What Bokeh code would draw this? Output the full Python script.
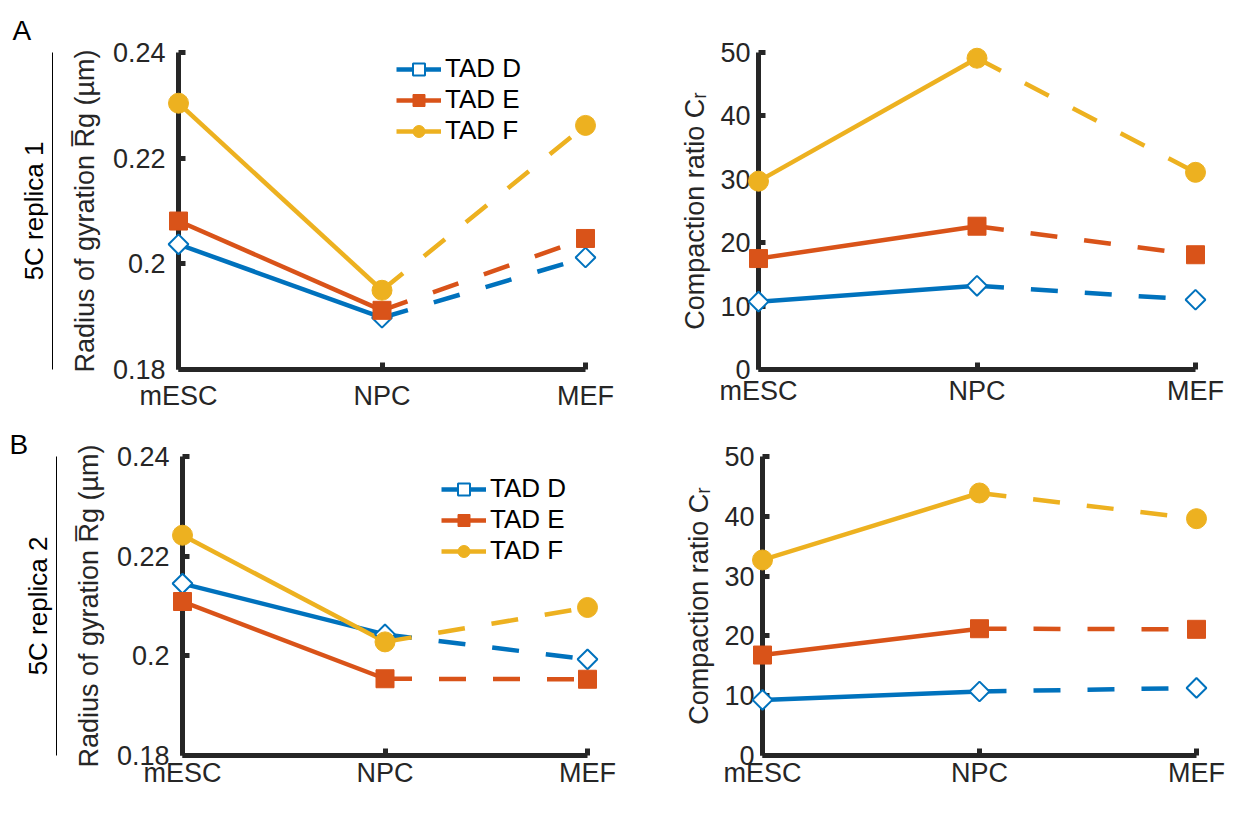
import math
from bokeh.plotting import figure
from bokeh.models import FixedTicker, Legend, LegendItem, Range1d, LinearAxis, Title
from bokeh.layouts import column, row
from bokeh.embed import file_html
from bokeh.resources import INLINE

# ---------------- data ----------------
stages = ["mESC", "NPC", "MEF"]
tads = ["TAD D", "TAD E", "TAD F"]

rg_rep1_D = [0.2037, 0.1898, 0.2012]
rg_rep1_E = [0.2081, 0.1912, 0.2048]
rg_rep1_F = [0.2304, 0.1950, 0.2262]
cr_rep1_D = [10.7, 13.2, 11.0]
cr_rep1_E = [17.5, 22.6, 18.1]
cr_rep1_F = [29.7, 49.1, 31.1]

rg_rep2_D = [0.2145, 0.2043, 0.1993]
rg_rep2_E = [0.2109, 0.1954, 0.1953]
rg_rep2_F = [0.2242, 0.2028, 0.2097]
cr_rep2_D = [9.3, 10.7, 11.3]
cr_rep2_E = [16.8, 21.2, 21.1]
cr_rep2_F = [32.7, 43.9, 39.6]

rg_ticks = [0.18, 0.2, 0.22, 0.24]
rg_tick_labels = ["0.18", "0.2", "0.22", "0.24"]
cr_ticks = [0, 10, 20, 30, 40, 50]

# ---------------- style ----------------
FONT = "Liberation Sans"
AX = "#262626"
COLORS = ["#0072BD", "#D95319", "#EDB120"]
xs = list(range(len(stages)))


def make_fig(width, height, b_left, b_right, b_top, b_bottom, y0, y1, yticks, ylabels, ylabel,
             ystandoff, lstandoff, xstandoff):
    p = figure(width=width, height=height, output_backend="svg", toolbar_location=None,
               x_range=Range1d(0, len(stages) - 1), y_range=Range1d(y0, y1),
               min_border_left=b_left, min_border_right=b_right,
               min_border_top=b_top, min_border_bottom=b_bottom)
    p.outline_line_color = None
    p.xgrid.visible = False
    p.ygrid.visible = False
    for ax in (p.xaxis[0], p.yaxis[0]):
        ax.axis_line_width = 5
        ax.axis_line_color = AX
        ax.major_tick_line_width = 5
        ax.major_tick_line_color = AX
        ax.major_tick_in = 7
        ax.major_tick_out = 0
        ax.minor_tick_line_color = None
        ax.major_label_text_font = FONT
        ax.major_label_text_font_size = "27px"
        ax.major_label_text_color = AX
        ax.axis_label_text_font = FONT
        ax.axis_label_text_font_size = "27px"
        ax.axis_label_text_font_style = "normal"
        ax.axis_label_text_color = AX
    p.xaxis[0].ticker = FixedTicker(ticks=xs)
    p.xaxis[0].major_label_overrides = {i: s for i, s in enumerate(stages)}
    p.xaxis[0].major_label_standoff = xstandoff
    p.yaxis[0].ticker = FixedTicker(ticks=yticks)
    p.yaxis[0].major_label_overrides = {t: l for t, l in zip(yticks, ylabels)}
    p.yaxis[0].major_label_standoff = ystandoff
    p.yaxis[0].axis_label = ylabel
    p.yaxis[0].axis_label_standoff = lstandoff
    return p


def add_series(p, series):
    items = []
    for name, vals, color, k in zip(tads, series, COLORS, range(3)):
        solid = p.line(xs[:2], vals[:2], line_color=color, line_width=4.5)
        p.line(xs[1:], vals[1:], line_color=color, line_width=4.5, line_dash="27 27")
        if k == 0:
            sc = p.scatter(xs, vals, marker="square", angle=math.pi / 4, size=14,
                           fill_color="white", line_color=color, line_width=2)
        elif k == 1:
            sc = p.scatter(xs, vals, marker="square", size=18,
                           fill_color=color, line_color=color)
        else:
            sc = p.scatter(xs, vals, marker="circle", size=20,
                           fill_color=color, line_color=color)
        sc.level = "overlay"
        items.append(LegendItem(label=name, renderers=[solid, sc]))
    return items


def add_legend(p, items, loc):
    lg = Legend(items=items, location=loc, border_line_color=None,
                background_fill_alpha=0, padding=0, margin=0, spacing=0,
                glyph_width=45, glyph_height=30, label_height=30, label_standoff=4,
                label_text_font=FONT, label_text_font_size="26px", label_text_color="black")
    p.add_layout(lg)


def side_text(p, y0, letter, letter_offset, letter_standoff, rep_text):
    # invisible spacer axis, then an axis whose line is the fraction bar and whose label is the replica name
    spacer = LinearAxis(ticker=FixedTicker(ticks=[y0]), axis_line_color=None,
                        major_tick_out=14, major_tick_in=0, major_label_standoff=0,
                        major_tick_line_color=None, minor_tick_line_color=None,
                        major_label_overrides={y0: ""}, major_label_text_font_size="1px")
    p.add_layout(spacer, "left")
    bar = LinearAxis(ticker=FixedTicker(ticks=[]), axis_line_color="black", axis_line_width=1,
                     major_tick_out=0, major_tick_in=0, major_label_standoff=0,
                     major_tick_line_color=None, minor_tick_line_color=None,
                     major_label_text_font_size="0px",
                     axis_label=rep_text, axis_label_standoff=4,
                     axis_label_text_font=FONT, axis_label_text_font_size="26px",
                     axis_label_text_font_style="normal", axis_label_text_color="black")
    p.add_layout(bar, "left")
    p.add_layout(Title(text=letter, align="left", offset=letter_offset, standoff=letter_standoff,
                       text_font=FONT, text_font_size="28px", text_font_style="normal",
                       text_color="black"), "above")


RG_LABEL = "Radius of gyration R\u0305g (\u00b5m)"
CR_LABEL = "Compaction ratio C\u1d63"

TOP_H = 421
BOT_H = 377

# ---- row 1 ----
p1 = make_fig(640, TOP_H, 178, 55, 45, 52, 0.18, 0.24, rg_ticks, rg_tick_labels, RG_LABEL, 13, 10, 11)
it1 = add_series(p1, [rg_rep1_D, rg_rep1_E, rg_rep1_F])
add_legend(p1, it1, (218, 223))
side_text(p1, 0.18, "A", -166, 13, "5C replica 1")

p2 = make_fig(589, TOP_H, 118, 34, 52, 46, 0, 50, cr_ticks, [str(t) for t in cr_ticks], CR_LABEL, 8, 7, 6)
add_series(p2, [cr_rep1_D, cr_rep1_E, cr_rep1_F])

# ---- row 2 ----
p3 = make_fig(640, BOT_H, 182, 53, 35, 43, 0.18, 0.24, rg_ticks, rg_tick_labels, RG_LABEL, 13, 10, 2)
it3 = add_series(p3, [rg_rep2_D, rg_rep2_E, rg_rep2_F])
add_legend(p3, it3, (259, 189))
side_text(p3, 0.18, "B", -173, -6, "5C replica 2")

p4 = make_fig(589, BOT_H, 122, 33, 25, 43, 0, 50, cr_ticks, [str(t) for t in cr_ticks], CR_LABEL, 8, 7, 2)
add_series(p4, [cr_rep2_D, cr_rep2_E, cr_rep2_F])

layout = column(row(p1, p2), row(p3, p4))

with open("out.html", "w") as f:
    f.write(file_html(layout, INLINE))
